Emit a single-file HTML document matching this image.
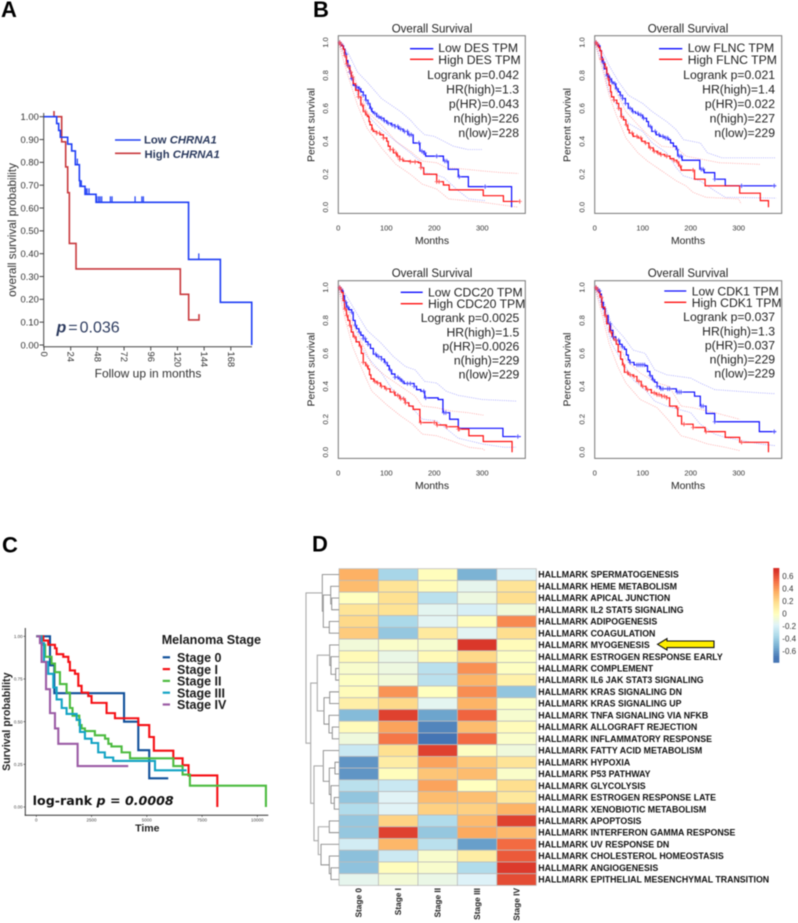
<!DOCTYPE html>
<html lang="en">
<head>
<meta charset="utf-8">
<title>Survival curves and hallmark heatmap</title>
<style>
html,body{margin:0;padding:0;background:#fff;}
svg{display:block;filter:blur(0.4px);font-family:"Liberation Sans",Arial,sans-serif;}
.panel-letter{font-size:22px;font-weight:bold;fill:#000;}
.b-title{font-size:11.5px;fill:#222;text-anchor:middle;}
.b-leg{font-size:12.2px;fill:#222;}
.b-stat{font-size:12.2px;fill:#222;text-anchor:end;}
.b-axis{font-size:10.4px;fill:#222;text-anchor:middle;}
.a-txt{fill:#2b3a5e;font-weight:bold;font-size:11.3px;}
.c-leg{font-size:12.5px;font-weight:bold;fill:#1a1a1a;}
</style>
</head>
<body>
<svg id="figure" xmlns="http://www.w3.org/2000/svg" width="798" height="923" viewBox="0 0 798 923">
  <rect x="0" y="0" width="798" height="923" fill="#fff"/>

  <text class="panel-letter" x="1" y="17">A</text>
  <text class="panel-letter" x="313" y="17">B</text>
  <text class="panel-letter" x="2" y="552.5">C</text>
  <text class="panel-letter" x="312" y="551.5">D</text>

  <!-- Panel A -->
  <g id="panel-a"></g>
  <text transform="translate(16,230) rotate(-90)" text-anchor="middle" font-size="11.7" fill="#333">overall survival probability</text>
  <text x="148" y="377.5" text-anchor="middle" font-size="12" fill="#333">Follow up in months</text>
  <line x1="115" x2="140.7" y1="140" y2="140" stroke="#1f3ff5" stroke-width="1.6"/>
  <text class="a-txt" x="144" y="143.5">Low <tspan font-style="italic">CHRNA1</tspan></text>
  <line x1="115" x2="140.7" y1="153.3" y2="153.3" stroke="#c8393d" stroke-width="1.6"/>
  <text class="a-txt" x="144.5" y="158">High <tspan font-style="italic">CHRNA1</tspan></text>
  <text x="56.5" y="332.5" font-size="16" fill="#2b3a5e"><tspan font-style="italic" font-weight="bold">p</tspan><tspan dx="2">=</tspan><tspan dx="2">0.036</tspan></text>

  <!-- Panel B texts -->
  <g>
    <text class="b-title" x="432" y="32.5">Overall Survival</text>
    <text class="b-leg" x="438.3" y="52">Low DES TPM</text>
    <text class="b-leg" x="438.3" y="64">High DES TPM</text>
    <text class="b-stat" x="519" y="79">Logrank p=0.042</text>
    <text class="b-stat" x="519" y="93.5">HR(high)=1.3</text>
    <text class="b-stat" x="519" y="108">p(HR)=0.043</text>
    <text class="b-stat" x="519" y="122.5">n(high)=226</text>
    <text class="b-stat" x="519" y="137">n(low)=228</text>
    <text class="b-axis" x="432" y="244">Months</text>
    <text class="b-axis" transform="translate(314.5,125) rotate(-90)">Percent survival</text>
  </g>
  <g>
    <text class="b-title" x="688" y="32.5">Overall Survival</text>
    <text class="b-leg" x="687.7" y="52">Low FLNC TPM</text>
    <text class="b-leg" x="687.7" y="64">High FLNC TPM</text>
    <text class="b-stat" x="775" y="79">Logrank p=0.021</text>
    <text class="b-stat" x="775" y="93.5">HR(high)=1.4</text>
    <text class="b-stat" x="775" y="108">p(HR)=0.022</text>
    <text class="b-stat" x="775" y="122.5">n(high)=227</text>
    <text class="b-stat" x="775" y="137">n(low)=229</text>
    <text class="b-axis" x="688" y="244">Months</text>
    <text class="b-axis" transform="translate(570.5,125) rotate(-90)">Percent survival</text>
  </g>
  <g>
    <text class="b-title" x="432" y="277">Overall Survival</text>
    <text class="b-leg" x="428" y="296.5">Low CDC20 TPM</text>
    <text class="b-leg" x="428" y="308">High CDC20 TPM</text>
    <text class="b-stat" x="519.3" y="322">Logrank p=0.0025</text>
    <text class="b-stat" x="519.3" y="336.5">HR(high)=1.5</text>
    <text class="b-stat" x="519.3" y="350.5">p(HR)=0.0026</text>
    <text class="b-stat" x="519.3" y="364.5">n(high)=229</text>
    <text class="b-stat" x="519.3" y="378.5">n(low)=229</text>
    <text class="b-axis" x="432" y="489">Months</text>
    <text class="b-axis" transform="translate(314.5,369.5) rotate(-90)">Percent survival</text>
  </g>
  <g>
    <text class="b-title" x="688" y="277">Overall Survival</text>
    <text class="b-leg" x="691.7" y="295.5">Low CDK1 TPM</text>
    <text class="b-leg" x="691.7" y="307">High CDK1 TPM</text>
    <text class="b-stat" x="775" y="321">Logrank p=0.037</text>
    <text class="b-stat" x="775" y="335.5">HR(high)=1.3</text>
    <text class="b-stat" x="775" y="349.5">p(HR)=0.037</text>
    <text class="b-stat" x="775" y="363.5">n(high)=229</text>
    <text class="b-stat" x="775" y="377.5">n(low)=229</text>
    <text class="b-axis" x="688" y="489">Months</text>
    <text class="b-axis" transform="translate(570.5,369.5) rotate(-90)">Percent survival</text>
  </g>
  <g id="panel-b"></g>

  <!-- Panel C -->
  <g id="panel-c"></g>
  <text transform="translate(10,721.7) rotate(-90)" text-anchor="middle" font-size="10.6" font-weight="bold" fill="#222">Survival probability</text>
  <text x="147.3" y="831.5" text-anchor="middle" font-size="10.5" font-weight="bold" fill="#222">Time</text>
  <text x="161.7" y="644" font-size="12.6" font-weight="bold" fill="#1a1a1a">Melanoma Stage</text>
  <text class="c-leg" x="177" y="662">Stage 0</text>
  <text class="c-leg" x="177" y="673.8">Stage I</text>
  <text class="c-leg" x="177" y="685.6">Stage II</text>
  <text class="c-leg" x="177" y="697.4">Stage III</text>
  <text class="c-leg" x="177" y="709.2">Stage IV</text>
  <text x="32.7" y="805" font-family="'DejaVu Sans',sans-serif" font-weight="bold" font-size="12" fill="#111" textLength="141" lengthAdjust="spacingAndGlyphs">log-rank <tspan font-style="italic">p = 0.0008</tspan></text>

  <!-- Panel D -->
  <g id="panel-d"></g>
  <polygon points="657.5,644.3 667,638.6 667,641 714,641 714,647.6 667,647.6 667,650" fill="#ffee00" stroke="#111" stroke-width="1.1"/>
</svg>

<script>
/* ---------- Panel A data: [months, survival] ---------- */
const aLow = [[0,1],[11.4,.97],[13.2,.94],[14.7,.91],[21.3,.88],[24.9,.85],[28.2,.79],[31.8,.72],[32.4,.695],[36.9,.66],[46.8,.625],[130,.375],[158.6,.187],[186.8,0]];
const aHigh = [[9,1.025],[9,1],[15.9,.89],[19.5,.78],[21.3,.667],[22.8,.445],[28.8,.333],[122.6,.222],[130.1,.11],[139.4,.11],[139.4,.135]];
const aLowCensor = [24.9,30,33.6,37.5,38.7,40.5,47.4,49,50.4,51.9,59.7,61.2,81.9,88,89.4,139.2];
const aXTicks = [0,24,48,72,96,120,144,168];
const aYTicks = [1,.9,.8,.7,.6,.5,.4,.3,.2,.1,0];

/* ---------- Panel B data: [months, survival] ---------- */
const desLow = [[0,1],[4,.99],[8,.98],[11,.96],[14,.93],[17,.89],[20,.86],[24,.82],[27,.78],[31,.74],[36,.73],[42,.72],[47,.70],[52,.68],[57,.65],[62,.63],[66,.60],[70,.58],[73,.57],[80,.55],[87,.54],[95,.525],[101,.51],[110,.50],[118,.49],[126,.475],[135,.46],[145,.44],[156,.39],[170,.34],[178,.33],[182,.31],[219,.28],[229,.23],[250,.185],[271,.125],[361,0]];
const desHigh = [[0,1],[4,.99],[7,.98],[10,.96],[13,.92],[17,.87],[20,.85],[24,.82],[27,.79],[31,.75],[36,.71],[42,.67],[47,.62],[52,.58],[57,.56],[62,.55],[64,.52],[66,.50],[70,.47],[73,.46],[80,.45],[87,.44],[94,.42],[101,.40],[104,.37],[108,.35],[115,.33],[122,.31],[128,.29],[135,.28],[150,.275],[167,.27],[172,.24],[178,.2],[205,.155],[219,.135],[231,.105],[302,.07],[344,.035],[378,.035]];
const desLowUp = [[0,1],[20,.94],[40,.82],[60,.76],[90,.66],[110,.62],[130,.58],[150,.53],[165,.48],[180,.44],[200,.43],[220,.40],[240,.37],[270,.35],[300,.35]];
const desLowDn = [[0,1],[20,.88],[40,.68],[60,.56],[90,.47],[120,.40],[150,.33],[170,.28],[180,.21],[200,.20],[220,.18],[250,.10],[272,.05],[305,.04]];
const desHighUp = [[0,1],[20,.88],[40,.74],[60,.58],[90,.50],[120,.40],[150,.34],[175,.28],[205,.27],[225,.24],[250,.235],[300,.22],[340,.21],[375,.205]];
const desHighDn = [[0,1],[20,.80],[40,.62],[60,.48],[90,.36],[120,.26],[150,.2],[175,.14],[205,.11],[230,.05],[300,.03],[350,.01],[375,0]];
const desLowCensor = [3,6,16,20,24,28,38,44,52,58,62,68,76,84,90,96,104,112,118,124,130,138,144,148,152,168,174,178,180,205,222,226,252,306];
const desHighCensor = [3,5,14,18,22,26,30,42,50,56,60,72,80,86,94,108,114,120,124,128,134,150,160,172,205,210,378];

const flncLow = [[0,1],[4,.99],[8,.98],[11,.95],[14,.91],[16,.88],[20,.84],[25,.80],[30,.78],[35,.76],[39,.75],[44,.72],[49,.70],[53,.68],[58,.66],[64,.63],[70,.60],[78,.58],[85,.57],[91,.56],[100,.54],[108,.52],[112,.49],[119,.46],[128,.44],[136,.43],[145,.42],[153,.41],[158,.39],[164,.37],[170,.35],[173,.31],[182,.285],[219,.23],[228,.21],[250,.17],[272,.13],[378,.13]];
const flncHigh = [[0,1],[4,.99],[8,.97],[11,.95],[14,.90],[18,.87],[22,.85],[25,.81],[28,.78],[30,.74],[33,.70],[35,.67],[40,.65],[46,.63],[50,.60],[55,.55],[60,.53],[65,.50],[69,.47],[72,.45],[80,.43],[91,.42],[98,.40],[105,.39],[113,.36],[122,.34],[130,.33],[136,.32],[146,.31],[157,.295],[165,.285],[171,.275],[175,.25],[180,.225],[208,.17],[230,.13],[302,.085],[345,.04],[362,0]];
const flncLowUp = [[0,1],[15,.95],[30,.86],[50,.76],[70,.68],[100,.63],[120,.58],[150,.52],[170,.47],[185,.41],[220,.39],[235,.33],[265,.30],[378,.30]];
const flncLowDn = [[0,1],[15,.88],[30,.70],[50,.60],[70,.51],[100,.46],[120,.39],[150,.33],[170,.24],[185,.19],[220,.16],[250,.1],[272,.06],[378,.055]];
const flncHighUp = [[0,1],[15,.92],[30,.8],[45,.7],[65,.58],[90,.5],[110,.44],[140,.37],[170,.36],[190,.31],[225,.29],[260,.27],[345,.26]];
const flncHighDn = [[0,1],[15,.85],[30,.68],[45,.56],[65,.42],[90,.33],[110,.28],[140,.22],[170,.16],[190,.13],[205,.09],[232,.06],[300,.05],[305,.02]];
const flncLowCensor = [3,6,18,26,32,36,42,46,54,58,64,74,80,90,96,102,116,126,134,142,148,152,172,176,180,222,226,250,306,374];
const flncHighCensor = [3,5,14,22,28,40,50,56,66,78,88,96,106,116,124,132,138,150,165,172,178,205];

const cdc20Low = [[0,1],[4,.99],[8,.98],[10,.95],[13,.91],[17,.88],[22,.865],[28,.85],[31,.80],[35,.77],[38,.75],[43,.73],[47,.71],[52,.69],[57,.67],[62,.655],[67,.63],[73,.595],[80,.58],[90,.565],[96,.545],[102,.525],[106,.50],[111,.475],[118,.455],[125,.445],[131,.43],[137,.417],[153,.417],[158,.40],[163,.38],[172,.37],[180,.33],[208,.32],[218,.24],[232,.2],[250,.145],[343,.095],[380,.095]];
const cdc20High = [[0,1],[4,.99],[7,.97],[10,.92],[13,.87],[17,.83],[20,.80],[24,.77],[27,.73],[31,.70],[37,.67],[44,.645],[48,.60],[52,.545],[57,.525],[62,.505],[65,.47],[68,.445],[74,.43],[80,.42],[88,.40],[97,.385],[108,.365],[118,.345],[128,.325],[139,.30],[147,.28],[156,.26],[170,.18],[205,.165],[225,.155],[250,.14],[272,.1],[302,.065],[362,0]];
const cdc20LowUp = [[0,1],[15,.96],[35,.86],[60,.74],[90,.66],[115,.58],[140,.52],[160,.50],[180,.43],[205,.42],[225,.37],[250,.345],[300,.32],[372,.31]];
const cdc20LowDn = [[0,1],[15,.87],[35,.70],[60,.58],[90,.48],[115,.37],[140,.32],[160,.25],[175,.20],[205,.19],[235,.12],[250,.085],[300,.05],[345,.03],[370,.03]];
const cdc20HighUp = [[0,1],[15,.92],[30,.78],[50,.66],[70,.53],[100,.46],[130,.40],[160,.34],[175,.28],[205,.27],[235,.25],[270,.24],[302,.225]];
const cdc20HighDn = [[0,1],[15,.80],[30,.64],[50,.50],[70,.37],[100,.29],[130,.22],[155,.17],[175,.11],[205,.1],[235,.07],[272,.03],[302,.02],[305,.01]];
const cdc20LowCensor = [3,6,16,20,28,36,44,52,56,62,78,84,90,98,108,118,124,128,134,144,150,158,178,182,220,224,374];
const cdc20HighCensor = [3,5,14,18,24,34,46,52,60,76,82,90,100,116,124,130,136,140,172,200,206,226,250,252];

const cdk1Low = [[0,1],[4,.99],[8,.98],[11,.96],[14,.91],[18,.87],[22,.83],[28,.78],[33,.74],[38,.70],[44,.68],[52,.655],[57,.64],[62,.625],[66,.59],[70,.56],[73,.545],[82,.53],[105,.525],[110,.49],[115,.465],[120,.44],[125,.425],[130,.40],[136,.385],[163,.385],[170,.365],[208,.34],[220,.28],[232,.235],[250,.185],[343,.125],[378,.125]];
const cdk1High = [[0,1],[4,.99],[8,.97],[11,.94],[15,.88],[21,.83],[25,.78],[31,.73],[36,.70],[40,.68],[45,.655],[49,.61],[54,.565],[58,.53],[62,.485],[70,.47],[80,.46],[88,.43],[97,.40],[107,.38],[118,.36],[128,.35],[139,.34],[150,.33],[156,.28],[170,.27],[173,.22],[181,.17],[205,.15],[230,.125],[272,.09],[302,.06],[362,0]];
const cdk1LowUp = [[0,1],[15,.95],[35,.78],[60,.70],[80,.62],[105,.60],[125,.50],[150,.47],[200,.45],[220,.42],[250,.38],[345,.36],[375,.355]];
const cdk1LowDn = [[0,1],[15,.88],[35,.66],[60,.54],[80,.44],[105,.38],[125,.31],[150,.28],[200,.24],[220,.17],[250,.11],[272,.09],[345,.05],[375,.04]];
const cdk1HighUp = [[0,1],[15,.92],[30,.8],[48,.67],[65,.56],[95,.48],[130,.42],[155,.40],[180,.28],[205,.27],[250,.24],[302,.2]];
const cdk1HighDn = [[0,1],[15,.84],[30,.66],[48,.52],[65,.42],[95,.32],[130,.27],[155,.19],[180,.10],[205,.08],[235,.05],[272,.03],[302,.01]];
const cdk1LowCensor = [3,5,7,10,32,38,44,50,58,74,88,92,96,100,104,116,122,130,138,142,152,156,172,176,180,222,226,250,374];
const cdk1HighCensor = [3,5,14,22,34,44,60,68,74,82,92,100,110,124,130,134,140,145,150,172,186,205,232,306];

const bXTicks = [0,100,200,300];
const bYTicks = [0,.2,.4,.6,.8,1];

/* ---------- Panel C data: [days, survival] ---------- */
const stage0 = [[0,1],[620,.83],[815,.667],[3970,.5],[4615,.333],[5110,.168],[5970,.168]];
const stage1 = [[0,1],[317,.975],[540,.95],[845,.93],[920,.895],[1220,.88],[1450,.85],[1520,.80],[1750,.78],[1900,.71],[2050,.67],[2350,.65],[2500,.61],[3180,.55],[3560,.52],[4615,.48],[5110,.41],[5320,.33],[6200,.285],[6620,.245],[6890,.185],[8190,0]];
const stage2 = [[0,1],[240,.95],[400,.88],[690,.84],[845,.79],[1070,.72],[1370,.67],[1520,.58],[1640,.535],[1945,.48],[2050,.46],[2200,.445],[2650,.42],[3110,.40],[3260,.37],[3400,.355],[3860,.32],[4240,.285],[6200,.24],[6620,.19],[6950,.125],[10390,0]];
const stage3 = [[0,1],[240,.96],[350,.85],[540,.78],[770,.70],[920,.63],[1150,.58],[1370,.545],[1825,.51],[1975,.44],[2200,.40],[2500,.375],[2800,.32],[3100,.29],[3480,.27],[5370,.215],[6800,.215]];
const stage4 = [[0,1],[165,.96],[240,.85],[440,.69],[620,.55],[845,.46],[995,.37],[1870,.24],[4160,.24]];
const cXTicks = [0,2500,5000,7500,10000];
const cYTicks = [0,.25,.5,.75,1];

/* ---------- Panel D data ---------- */
const stageLabels = ["Stage 0","Stage I","Stage II","Stage III","Stage IV"];
const hallmarkLabels = ["SPERMATOGENESIS","HEME METABOLISM","APICAL JUNCTION","IL2 STAT5 SIGNALING","ADIPOGENESIS","COAGULATION","MYOGENESIS","ESTROGEN RESPONSE EARLY","COMPLEMENT","IL6 JAK STAT3 SIGNALING","KRAS SIGNALING DN","KRAS SIGNALING UP","TNFA SIGNALING VIA NFKB","ALLOGRAFT REJECTION","INFLAMMATORY RESPONSE","FATTY ACID METABOLISM","HYPOXIA","P53 PATHWAY","GLYCOLYSIS","ESTROGEN RESPONSE LATE","XENOBIOTIC METABOLISM","APOPTOSIS","INTERFERON GAMMA RESPONSE","UV RESPONSE DN","CHOLESTEROL HOMEOSTASIS","ANGIOGENESIS","EPITHELIAL MESENCHYMAL TRANSITION"];
const heatValues = [
[.34,-.36,.01,-.5,-.17],[.3,.15,.02,-.14,.15],[0,.17,-.3,-.1,.18],[.15,.16,-.15,-.2,-.08],[.2,-.35,-.16,.01,.45],[.25,-.42,.12,-.16,.18],
[-.08,-.03,-.05,.68,.02],[.03,-.12,.03,.2,-.01],[-.04,-.1,-.3,.43,-.01],[-.01,-.08,-.3,.33,.08],[.02,.42,0,.44,-.43],[.09,.2,-.15,.33,-.02],
[-.47,.65,-.55,.55,-.05],[.02,.38,-.65,.3,.02],[-.09,.5,-.7,.53,-.03],[-.25,.17,.65,-.01,-.09],[-.6,.1,.38,.26,.15],[-.6,.01,.27,.3,-.03],
[-.3,-.25,.38,0,.18],[-.43,-.17,.3,.29,.13],[-.33,-.17,.23,.23,.33],[-.42,.22,-.33,.31,.65],[-.42,.65,-.42,.36,.31],[-.22,.32,-.3,-.57,.53],
[-.45,-.24,-.04,.1,.58],[-.44,.01,-.04,-.33,.67],[-.14,-.07,-.12,-.18,.62]];
const colorbarTicks = [.6,.4,.2,0,-.2,-.4,-.6];
/* dendrogram: [height, left, right]; a bare number is a heatmap row */
const rowTree = [33,
  [16.7,0,[15.7,[8.3,1,[7.3,2,3]],[9.7,4,5]]],
  [28.3,
    [21.7,[9.3,6,[8,7,[3.3,8,9]]],[15,[9.3,10,11],[10,12,[6.7,13,14]]]],
    [25,[15.7,15,[9.7,[4,16,17],[8,18,[4.7,19,20]]]],[20.7,[9.7,21,22],[18,23,[9.7,24,[8,25,26]]]]]
  ]
];

const NS = "http://www.w3.org/2000/svg";
function make(tag, parent, attrs) {
  const el = document.createElementNS(NS, tag);
  for (const k in attrs) el.setAttribute(k, attrs[k]);
  parent.appendChild(el);
  return el;
}
function stepD(pairs, xf, yf) {
  let d = "M" + xf(pairs[0][0]).toFixed(2) + " " + yf(pairs[0][1]).toFixed(2);
  for (let i = 1; i < pairs.length; i++) {
    d += "H" + xf(pairs[i][0]).toFixed(2) + "V" + yf(pairs[i][1]).toFixed(2);
  }
  return d;
}
function polyD(pairs, xf, yf) {
  return pairs.map((p, i) => (i ? "L" : "M") + xf(p[0]).toFixed(2) + " " + yf(p[1]).toFixed(2)).join("");
}
function stepValue(pairs, t) {
  let v = pairs[0][1];
  for (const p of pairs) { if (p[0] <= t) v = p[1]; else break; }
  return v;
}
function drawStep(parent, pairs, xf, yf, name, stroke, width, extra) {
  const el = make("path", parent, Object.assign({d: stepD(pairs, xf, yf), fill: "none", stroke: stroke, "stroke-width": width, "stroke-linejoin": "miter"}, extra || {}));
  
  
  return el;
}
function drawBand(parent, pairs, xf, yf, name, stroke) {
  const el = make("path", parent, {d: polyD(pairs, xf, yf), fill: "none", stroke: stroke, "stroke-width": .7, "stroke-dasharray": "1 1.2", opacity: .42});
  
  
  return el;
}
function drawLine(parent, x1, y1, x2, y2, name, stroke, width) {
  const el = make("line", parent, {x1: x1, y1: y1, x2: x2, y2: y2, stroke: stroke, "stroke-width": width});
  
  
  return el;
}
function drawLabel(parent, x, y, str, name, attrs) {
  const el = make("text", parent, Object.assign({x: x, y: y}, attrs));
  el.textContent = str;
  
  
  return el;
}

/* ---------- Panel A ---------- */
(function () {
  const g = document.getElementById("panel-a");
  const x = m => 44 + 1.112 * m;
  const y = s => 345 - 228.3 * s;
  drawLine(g, 43.7, 113, 43.7, 347, "a-y-axis-line", "#444", 1);
  drawLine(g, 43.2, 346.7, 252, 346.7, "a-x-axis-line", "#444", 1);
  aYTicks.forEach(v => {
    drawLine(g, 39.5, y(v), 43.7, y(v), "a-y-tick", "#444", 1);
    drawLabel(g, 38.8, y(v) + 3.3, v.toFixed(2), "a-y-tick-label", {"text-anchor": "end", "font-size": 9.4, fill: "#333"});
  });
  aXTicks.forEach(v => {
    drawLine(g, x(v), 346.7, x(v), 350.5, "a-x-tick", "#444", 1);
    drawLabel(g, 0, 0, String(v), "a-x-tick-label", {"font-size": 9.4, fill: "#333", transform: "translate(" + (x(v) - 3) + ",351.5) rotate(90)"});
  });
  drawStep(g, aHigh, x, y, "a-high-chrna1-curve", "#c8393d", 1.6);
  drawStep(g, aLow, x, y, "a-low-chrna1-curve", "#1f3ff5", 1.6);
  aLowCensor.forEach(m => {
    const yy = y(stepValue(aLow, m));
    drawLine(g, x(m), yy, x(m), yy - 6, "a-low-censor-tick", "#1f3ff5", 1.2);
  });
})();

/* ---------- Panel B ---------- */
function drawSurvival(key, left, top, lineX1, lineX2, leg1, leg2, low, high, lowUp, lowDn, highUp, highDn, lowCens, highCens) {
  const root = document.getElementById("panel-b");
  const g = make("g", root, {});
  
  
  const x = m => left + 0.48 * m;
  const y = s => top + 171.5 - 164.7 * s;
  const box = make("rect", g, {x: left, y: top, width: 187, height: 177.7, fill: "none", stroke: "#777", "stroke-width": 1});
  
  
  bXTicks.forEach(v => {
    drawLabel(g, x(v), top + 195, String(v), key + "-x-tick-label", {"text-anchor": "middle", "font-size": 7.6, fill: "#333"});
  });
  bYTicks.forEach(v => {
    drawLabel(g, 0, 0, v.toFixed(1), key + "-y-tick-label", {"text-anchor": "middle", "font-size": 7.6, fill: "#333", transform: "translate(" + (left - 10.4) + "," + y(v) + ") rotate(-90)"});
  });
  drawBand(g, lowUp, x, y, key + "-low-upper-ci", "#0000ff");
  drawBand(g, lowDn, x, y, key + "-low-lower-ci", "#0000ff");
  drawBand(g, highUp, x, y, key + "-high-upper-ci", "#ff0000");
  drawBand(g, highDn, x, y, key + "-high-lower-ci", "#ff0000");
  drawStep(g, low, x, y, key + "-low-curve", "#0a0aff", 1.2);
  drawStep(g, high, x, y, key + "-high-curve", "#ff0f0f", 1.2);
  lowCens.forEach(m => {
    const yy = y(stepValue(low, m));
    drawLine(g, x(m), yy - 2.2, x(m), yy + 2.2, key + "-low-censor-mark", "#3a3aff", .8);
    drawLine(g, x(m) - 2.2, yy, x(m) + 2.2, yy, key + "-low-censor-bar", "#6a6aff", .7);
  });
  highCens.forEach(m => {
    const yy = y(stepValue(high, m));
    drawLine(g, x(m), yy - 2.2, x(m), yy + 2.2, key + "-high-censor-mark", "#ff3a3a", .8);
    drawLine(g, x(m) - 2.2, yy, x(m) + 2.2, yy, key + "-high-censor-bar", "#ff6a6a", .7);
  });
  drawLine(g, lineX1, leg1, lineX2, leg1, key + "-legend-low-line", "#0a0aff", 1.3);
  drawLine(g, lineX1, leg2, lineX2, leg2, key + "-legend-high-line", "#ff0f0f", 1.3);
}
drawSurvival("des", 338.3, 35.7, 410, 433.3, 48.7, 59.3, desLow, desHigh, desLowUp, desLowDn, desHighUp, desHighDn, desLowCensor, desHighCensor);
drawSurvival("flnc", 594.7, 35.7, 659, 682.3, 48.7, 59.3, flncLow, flncHigh, flncLowUp, flncLowDn, flncHighUp, flncHighDn, flncLowCensor, flncHighCensor);
drawSurvival("cdc20", 338.3, 280.7, 400.7, 422.7, 292.3, 303.7, cdc20Low, cdc20High, cdc20LowUp, cdc20LowDn, cdc20HighUp, cdc20HighDn, cdc20LowCensor, cdc20HighCensor);
drawSurvival("cdk1", 594.7, 280.7, 664.3, 686.3, 291, 302.3, cdk1Low, cdk1High, cdk1LowUp, cdk1LowDn, cdk1HighUp, cdk1HighDn, cdk1LowCensor, cdk1HighCensor);

/* ---------- Panel C ---------- */
(function () {
  const g = document.getElementById("panel-c");
  const x = t => 36.3 + 0.0221 * t;
  const y = s => 807 - 170.7 * s;
  drawLine(g, 25.3, 628, 25.3, 815.8, "c-y-axis-line", "#333", 1);
  drawLine(g, 24.8, 815.3, 268.3, 815.3, "c-x-axis-line", "#333", 1);
  cYTicks.forEach(v => {
    drawLine(g, 23.5, y(v), 25.3, y(v), "c-y-tick", "#333", .6);
    drawLabel(g, 22.7, y(v) + 1.6, v.toFixed(2), "c-y-tick-label", {"text-anchor": "end", "font-size": 4.5, fill: "#444"});
  });
  cXTicks.forEach(v => {
    drawLine(g, x(v), 815.3, x(v), 817, "c-x-tick", "#333", .6);
    drawLabel(g, x(v), 821.5, String(v), "c-x-tick-label", {"text-anchor": "middle", "font-size": 4.5, fill: "#444"});
  });
  const series = [[stage0, "#10509a", "stage-0"], [stage1, "#f50f14", "stage-1"], [stage2, "#4cbb3f", "stage-2"], [stage3, "#12a3c4", "stage-3"], [stage4, "#9b5ba5", "stage-4"]];
  [0, 1, 2, 3, 4].forEach(i => {
    const s = series[i];
    drawStep(g, s[0], x, y, "c-curve-" + s[2], s[1], 2.1);
    drawLine(g, 162.7, 657.3 + i * 11.8, 170, 657.3 + i * 11.8, "c-legend-swatch-" + s[2], s[1], 2.2);
  });
})();

/* ---------- Panel D ---------- */
const paletteStops = ["#4575b4","#74add1","#abd9e9","#e0f3f8","#ffffbf","#fee090","#fdae61","#f46d43","#d73027"];
function heatColor(v) {
  const f = Math.max(0, Math.min(7.999, (v + .7) / .175));
  const i = Math.floor(f), k = f - i;
  const hex = c => [1, 3, 5].map(p => parseInt(c.substr(p, 2), 16));
  const a = hex(paletteStops[i]), b = hex(paletteStops[i + 1]);
  return "rgb(" + a.map((q, n) => Math.round(q + (b[n] - q) * k)).join(",") + ")";
}
(function () {
  const g = document.getElementById("panel-d");
  const left = 339, top = 568.7, cellW = 39.46, cellH = 11.73;
  const col = c => left + c * cellW;
  const row = r => top + r * cellH;
  heatValues.forEach((vals, r) => {
    vals.forEach((v, c) => {
      const cell = make("rect", g, {x: col(c), y: row(r), width: cellW, height: cellH, fill: heatColor(v), stroke: "#bcbcbc", "stroke-width": .8});
      
      
    });
    drawLabel(g, 538.3, row(r) + cellH / 2 + 3.1, "HALLMARK " + hallmarkLabels[r], "hallmark-row-label", {"font-size": 8.8, "font-weight": "bold", fill: "#111"});
  });
  stageLabels.forEach((s, c) => {
    drawLabel(g, 0, 0, s, "stage-column-label", {"text-anchor": "end", "font-size": 8.3, "font-weight": "bold", fill: "#222", transform: "translate(" + (col(c) + cellW / 2 + 3) + ",888) rotate(-90)"});
  });
  /* dendrogram */
  const treeX = h => left - h;
  function drawNode(n) {
    if (typeof n === "number") return {x: left, y: row(n) + cellH / 2};
    const a = drawNode(n[1]), b = drawNode(n[2]);
    const hx = treeX(n[0]), my = (a.y + b.y) / 2;
    const p = make("path", g, {d: "M" + a.x + " " + a.y + "H" + hx + "V" + b.y + "H" + b.x, fill: "none", stroke: n[0] > 20 ? "#aaa" : "#888", "stroke-width": n[0] > 20 ? 1.1 : .9});
    
    
    return {x: hx, y: my};
  }
  drawNode(rowTree);
  /* colour bar */
  const barY = v => 613.4 - 62.2 * v;
  for (let v = .73; v > -.79; v -= .02) {
    const seg = make("rect", g, {x: 773.3, y: barY(v), width: 6, height: 1.5, fill: heatColor(v)});
    
    
  }
  colorbarTicks.forEach(v => {
    drawLabel(g, 782.3, barY(v) + 3.1, v === 0 ? "0" : String(v), "colorbar-tick-label", {"font-size": 8, fill: "#333"});
  });
})();
</script>
</body>
</html>
